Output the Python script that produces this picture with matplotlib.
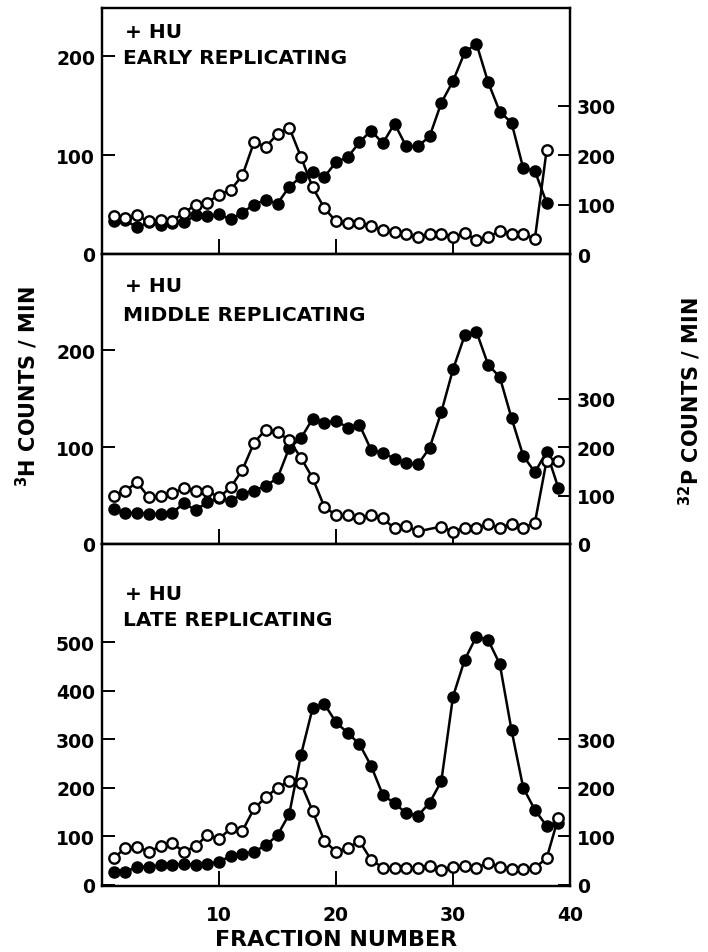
import matplotlib
matplotlib.use("Agg")
import matplotlib.pyplot as plt

plt.rcParams['font.family'] = ['DejaVu Sans']
plt.rcParams['font.weight'] = 'bold'
plt.rcParams['mathtext.fontset'] = 'dejavusans'
plt.rcParams['mathtext.default'] = 'bf'

# ---------------- data ----------------
frac_early = list(range(1, 39))
h3_early = [33, 34, 27, 32, 29, 31, 32, 39, 38, 40, 35, 42, 50, 55, 51, 68, 78, 83, 78, 93,
            98, 113, 125, 112, 132, 109, 109, 119, 153, 175, 204, 213, 174, 144, 133, 87, 84, 52]
frac_early_p = list(range(1, 39))
p32_early = [77, 72, 78, 66, 69, 67, 83, 100, 104, 120, 130, 159, 227, 217, 243, 256, 197, 135, 93, 66,
             62, 63, 57, 48, 45, 40, 34, 40, 41, 35, 42, 29, 35, 46, 41, 41, 31, 210]

frac_middle = list(range(1, 40))
h3_middle = [36, 32, 32, 31, 31, 32, 42, 35, 43, 47, 44, 52, 55, 60, 68, 99, 109, 129, 125, 127,
             120, 123, 97, 94, 88, 83, 82, 99, 136, 180, 215, 219, 185, 172, 130, 91, 74, 95, 58]
frac_middle_p = list(range(1, 28)) + list(range(29, 40))
p32_middle = [100, 110, 127, 96, 98, 105, 115, 110, 110, 96, 117, 153, 209, 236, 231, 214, 178, 136, 77, 59,
              59, 53, 59, 53, 32, 37, 26, 36, 25, 34, 34, 41, 33, 42, 33, 44, 172, 171]

frac_late = list(range(1, 40))
h3_late = [25, 26, 37, 37, 40, 40, 43, 40, 43, 47, 59, 63, 68, 81, 102, 145, 267, 364, 373, 335,
           313, 290, 245, 185, 168, 147, 142, 169, 213, 388, 464, 512, 505, 455, 319, 200, 154, 121, 127]
frac_late_p = list(range(1, 40))
p32_late = [54, 76, 78, 68, 79, 85, 68, 79, 102, 94, 116, 111, 157, 180, 200, 213, 209, 152, 90, 68,
            75, 90, 51, 35, 35, 35, 35, 39, 30, 37, 39, 34, 45, 37, 33, 32, 35, 54, 138]

panel_labels = [["+ HU", "EARLY REPLICATING"],
                ["+ HU", "MIDDLE REPLICATING"],
                ["+ HU", "LATE REPLICATING"]]
left_ticks = [[0, 100, 200], [0, 100, 200], [0, 100, 200, 300, 400, 500]]
right_ticks = [[0, 100, 200, 300], [0, 100, 200, 300], [0, 100, 200, 300]]
x_ticks = [10, 20, 30, 40]

# ---------------- figure ----------------
W, H = 708, 953
fig = plt.figure(figsize=(W / 100, H / 100), dpi=100)

def fx(px):
    return px / W

def fy(py):
    return 1 - py / H

left_px, right_px = 102, 570
panels_px = [(9, 255), (255, 545), (545, 887)]
left_lims = [(0, 249), (0, 299), (-3, 703)]
right_lims = [(0, 498), (0, 598), (-3, 703)]
text_y = [(33, 59), (287, 316), (594, 621)]

datasets = [
    (frac_early, h3_early, frac_early_p, p32_early),
    (frac_middle, h3_middle, frac_middle_p, p32_middle),
    (frac_late, h3_late, frac_late_p, p32_late),
]

lw = 1.8
spine_lw = 1.6
fs_tick = 13.5

for i, ((top, bot), (fh, h3, fp, p32)) in enumerate(zip(panels_px, datasets)):
    ax = fig.add_axes([fx(left_px), fy(bot), fx(right_px - left_px), (bot - top) / H])
    ax2 = ax.twinx()
    ax.set_xlim(0, 40)
    ax.set_ylim(*left_lims[i])
    ax2.set_ylim(*right_lims[i])

    ax.plot(fh, h3, '-', color='black', lw=lw, marker='o', markersize=8,
            markerfacecolor='black', markeredgecolor='black', zorder=3)
    ax2.plot(fp, p32, '-', color='black', lw=lw, marker='o', markersize=7.5,
             markerfacecolor='white', markeredgecolor='black', markeredgewidth=1.7, zorder=4)

    ax.set_yticks(left_ticks[i])
    ax2.set_yticks(right_ticks[i])
    ax.tick_params(axis='y', direction='in', length=9, width=1.4, labelsize=fs_tick, pad=5)
    ax2.tick_params(axis='y', direction='in', length=9, width=1.4, labelsize=fs_tick, pad=5)
    ax.set_xticks(x_ticks)
    ax.tick_params(axis='x', direction='in', length=11, width=1.4, labelsize=fs_tick, pad=14)
    if i < 2:
        ax.tick_params(axis='x', labelbottom=False)
    for a in (ax, ax2):
        for s in a.spines.values():
            s.set_linewidth(spine_lw)
    ax2.set_zorder(ax.get_zorder() + 1)
    ax2.patch.set_visible(False)

    ty1, ty2 = text_y[i]
    fig.text(fx(125), fy(ty1), panel_labels[i][0], fontsize=14.5, va='center', ha='left')
    fig.text(fx(123), fy(ty2), panel_labels[i][1], fontsize=14.5, va='center', ha='left')

fig.text(fx(27), fy(387), r"$^{3}$H COUNTS / MIN", rotation=90, fontsize=15,
         ha='center', va='center')
fig.text(fx(690), fy(402), r"$^{32}$P COUNTS / MIN", rotation=90, fontsize=15,
         ha='center', va='center')
fig.text(fx(336), fy(940), "FRACTION NUMBER", fontsize=16, ha='center', va='center')

fig.savefig("out.png", dpi=100)
